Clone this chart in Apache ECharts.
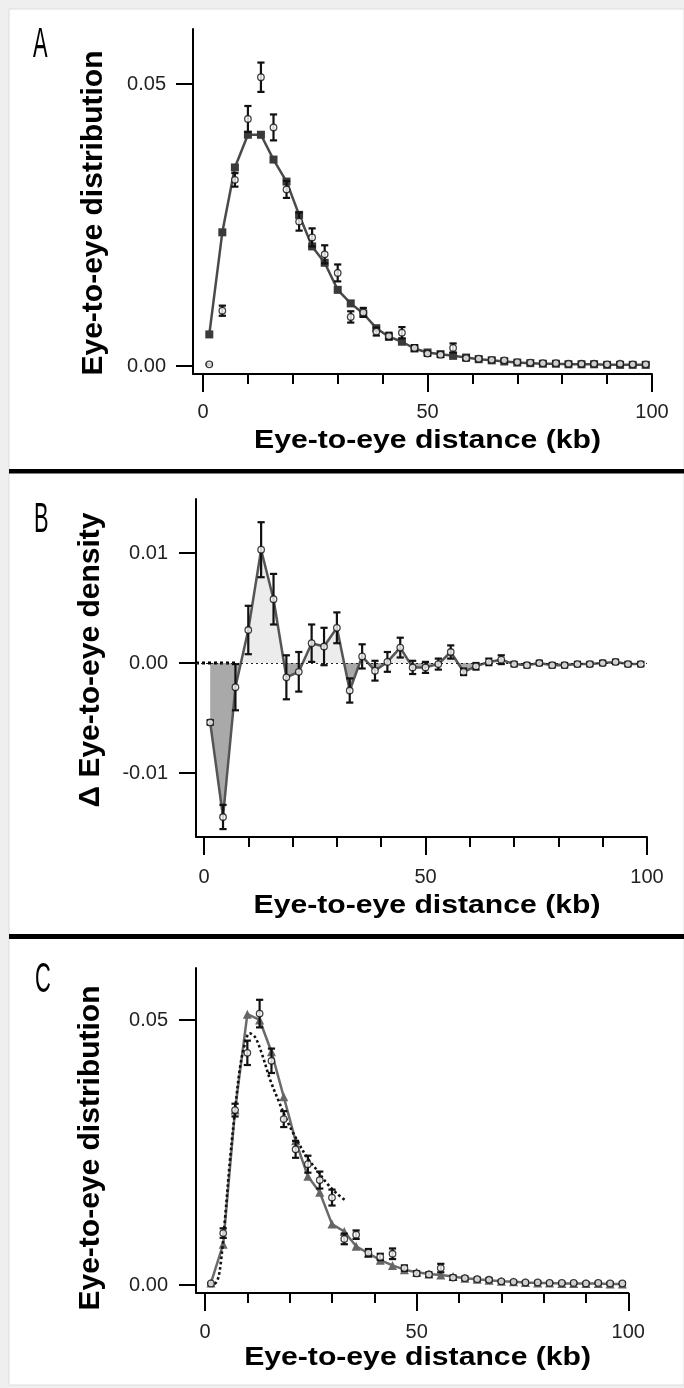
<!DOCTYPE html>
<html>
<head>
<meta charset="utf-8">
<script src="https://cdn.jsdelivr.net/npm/echarts@6/dist/echarts.min.js"></script>
<style>
  html, body { margin: 0; padding: 0; background: #efefef; }
  #chart { width: 684px; height: 1388px; }
</style>
</head>
<body>
<div id="chart"></div>
<script>
// ---- data ----
const distKb = [1.4, 4.3, 7.1, 10.0, 12.9, 15.7, 18.6, 21.4, 24.3, 27.1, 30.0, 32.9, 35.7, 38.6, 41.4, 44.3, 47.1, 50.0, 52.9, 55.7, 58.6, 61.4, 64.3, 67.1, 70.0, 72.9, 75.7, 78.6, 81.4, 84.3, 87.1, 90.0, 92.9, 95.7, 98.6];

// Panel A: model (filled squares) and observed distribution (open circles)
const modelA = [0.0056, 0.0237, 0.0352, 0.0410, 0.0410, 0.0366, 0.0327, 0.0268, 0.0212, 0.0183, 0.0135, 0.0111, 0.0093, 0.0067, 0.0052, 0.0043, 0.0031, 0.0024, 0.0021, 0.0018, 0.0015, 0.0012, 0.0010, 0.0008, 0.0006, 0.0005, 0.0004, 0.0004, 0.0003, 0.0003, 0.0003, 0.0002, 0.0002, 0.0002, 0.0002];
const observed = [0.0003, 0.0098, 0.0330, 0.0438, 0.0512, 0.0423, 0.0313, 0.0256, 0.0228, 0.0198, 0.0165, 0.0087, 0.0095, 0.0061, 0.0053, 0.0059, 0.0032, 0.0022, 0.0020, 0.0032, 0.0014, 0.0013, 0.0011, 0.0010, 0.0007, 0.0006, 0.0005, 0.0005, 0.0004, 0.0004, 0.0004, 0.0003, 0.0004, 0.0003, 0.0003];
const observedErr = [0.0001, 0.0009, 0.0012, 0.0023, 0.0026, 0.0023, 0.0015, 0.0016, 0.0016, 0.0016, 0.0015, 0.0010, 0.0008, 0.0007, 0.0006, 0.0010, 0.0005, 0.0004, 0.0004, 0.0008, 0.0004, 0.0003, 0.0003, 0.0003, 0.0002, 0.0002, 0.0002, 0.0002, 0.0002, 0.0002, 0.0002, 0.0002, 0.0002, 0.0002, 0.0002];

// Panel B: difference (observed - model)
const deltaB = [-0.0054, -0.0140, -0.0022, 0.0030, 0.0103, 0.0058, -0.0013, -0.0008, 0.0018, 0.0015, 0.0032, -0.0025, 0.0006, -0.0007, 0.0001, 0.0014, -0.0004, -0.0004, -0.0001, 0.0010, -0.0008, -0.0003, 0.0001, 0.0003, -0.0001, -0.0002, 0.0000, -0.0002, -0.0002, -0.0001, -0.0001, 0.0000, 0.0001, -0.0001, -0.0001];
const deltaErr = [0.0002, 0.0011, 0.0021, 0.0022, 0.0025, 0.0023, 0.0020, 0.0018, 0.0017, 0.0017, 0.0014, 0.0011, 0.0011, 0.0009, 0.0009, 0.0009, 0.0006, 0.0005, 0.0005, 0.0006, 0.0003, 0.0003, 0.0003, 0.0004, 0.0002, 0.0002, 0.0002, 0.0002, 0.0002, 0.0002, 0.0002, 0.0002, 0.0002, 0.0002, 0.0002];
const zeroThickKb = [-1.8, 7.7];

// Panel C: second model (triangles) and fitted curve (dotted)
const modelC = [0.0004, 0.0077, 0.0330, 0.0511, 0.0500, 0.0440, 0.0355, 0.0272, 0.0205, 0.0175, 0.0115, 0.0101, 0.0073, 0.0060, 0.0047, 0.0037, 0.0029, 0.0024, 0.0021, 0.0019, 0.0016, 0.0013, 0.0011, 0.0009, 0.0007, 0.0006, 0.0005, 0.0004, 0.0004, 0.0003, 0.0003, 0.0003, 0.0003, 0.0002, 0.0002];
const fitKb = [2.3, 3.0, 3.7, 4.7, 5.9, 7.1, 8.3, 9.5, 10.5, 11.8, 13.4, 15.4, 17.3, 19.3, 21.7, 24.0, 26.4, 28.8, 31.1, 33.1];
const fitC = [0.0002, 0.0010, 0.0040, 0.0123, 0.0236, 0.0330, 0.0412, 0.0457, 0.0475, 0.0468, 0.0437, 0.0387, 0.0349, 0.0311, 0.0274, 0.0242, 0.0217, 0.0192, 0.0173, 0.0160];

// tick labels
const xTicks = [0, 50, 100];
const yTicksA = [0, 0.05];
const yTicksB = [-0.01, 0, 0.01];
const yTicksC = [0, 0.05];

const xTitle = 'Eye-to-eye distance (kb)';
const yTitleA = 'Eye-to-eye distribution';
const yTitleB = '\u0394 Eye-to-eye density';
const yTitleC = 'Eye-to-eye distribution';

// ---- helpers ----
const FONT = 'Liberation Sans, Arial, Helvetica, sans-serif';
const pairs = (xs, ys) => xs.map((x, i) => [x, ys[i]]);
const triples = (xs, ys, es) => xs.map((x, i) => [x, ys[i], es[i]]);

function mainX(g, min, max) {
  return { type: 'value', gridIndex: g, min, max,
    axisLine: { show: true, onZero: false, lineStyle: { color: '#000', width: 2 } },
    axisTick: { show: false }, axisLabel: { show: false }, splitLine: { show: false } };
}
function mainY(g, min, max) {
  return { type: 'value', gridIndex: g, min, max,
    axisLine: { show: true, onZero: false, lineStyle: { color: '#000', width: 2 } },
    axisTick: { show: false }, axisLabel: { show: false }, splitLine: { show: false } };
}
function tickX(g, offset, margin) {
  return { type: 'value', gridIndex: g, min: xTicks[0], max: xTicks[xTicks.length - 1],
    interval: xTicks[1] - xTicks[0], offset,
    axisLine: { show: false, onZero: false },
    axisTick: { show: true, length: 18, lineStyle: { color: '#000', width: 2 } },
    minorTick: { show: true, splitNumber: 5, length: 10, lineStyle: { color: '#000', width: 2 } },
    axisLabel: { margin, fontSize: 20, color: '#222', fontFamily: FONT },
    splitLine: { show: false }, minorSplitLine: { show: false } };
}
function tickY(g, ticks, offset, margin) {
  return { type: 'value', gridIndex: g, min: ticks[0], max: ticks[ticks.length - 1],
    interval: +(ticks[1] - ticks[0]).toFixed(6), offset,
    axisLine: { show: false, onZero: false },
    axisTick: { show: true, length: 17, lineStyle: { color: '#000', width: 2 } },
    axisLabel: { margin, fontSize: 20, color: '#222', fontFamily: FONT,
      formatter: v => (Math.abs(v) < 1e-9 ? 0 : v).toFixed(2) },
    splitLine: { show: false } };
}
function errorBars(axisIdx, data, z) {
  return {
    type: 'custom', xAxisIndex: axisIdx, yAxisIndex: axisIdx, data, z: z || 3,
    encode: { x: 0, y: 1 },
    renderItem: function (params, api) {
      const x = api.value(0), y = api.value(1), e = api.value(2);
      const t = api.coord([x, y + e]);
      const b = api.coord([x, y - e]);
      const hw = 3.6;
      const st = { stroke: '#111', lineWidth: 2.2 };
      return { type: 'group', children: [
        { type: 'line', shape: { x1: t[0], y1: t[1], x2: b[0], y2: b[1] }, style: st },
        { type: 'line', shape: { x1: t[0] - hw, y1: t[1], x2: t[0] + hw, y2: t[1] }, style: st },
        { type: 'line', shape: { x1: b[0] - hw, y1: b[1], x2: b[0] + hw, y2: b[1] }, style: st }
      ] };
    }
  };
}
function circles(axisIdx, data) {
  return { type: 'scatter', xAxisIndex: axisIdx, yAxisIndex: axisIdx, data,
    symbol: 'circle', symbolSize: 6.5, z: 5,
    itemStyle: { color: '#fff', borderColor: '#111', borderWidth: 1.3 } };
}

// layout of panel B for the area colour split at zero
const gridB = { left: 196, top: 499, width: 451, height: 338 };
const bMin = -0.01582, bMax = 0.01491;
const zeroY = gridB.top + gridB.height * bMax / (bMax - bMin);
const H = 1388;
const areaFill = new echarts.graphic.LinearGradient(0, 0, 0, H, [
  { offset: 0, color: '#ececec' },
  { offset: zeroY / H, color: '#ececec' },
  { offset: zeroY / H, color: '#a9a9a9' },
  { offset: 1, color: '#a9a9a9' }
], true);

const chart = echarts.init(document.getElementById('chart'), null, { renderer: 'canvas' });

const titleStyle = { fontFamily: FONT, fontWeight: 'bold', fill: '#000', align: 'center', verticalAlign: 'middle' };
const letterStyle = { fontFamily: FONT, fontSize: 42, fill: '#000', align: 'left', verticalAlign: 'top' };

const option = {
  animation: false,
  backgroundColor: 'transparent',
  textStyle: { fontFamily: FONT },
  grid: [
    { left: 193, top: 29, width: 459, height: 345 },
    gridB,
    { left: 196, top: 968, width: 432.3, height: 325 },
    { left: 203, top: 84, width: 449, height: 282 },
    { left: 204, top: 553, width: 443, height: 220 },
    { left: 205, top: 1020, width: 423.3, height: 265 }
  ],
  xAxis: [
    mainX(0, -2.23, 100),
    mainX(1, -1.8, 100),
    mainX(2, -2.13, 100),
    tickX(3, 8, 28),
    tickX(4, 64, 30),
    tickX(5, 8, 29)
  ],
  yAxis: [
    mainY(0, -0.00142, 0.05975),
    mainY(1, bMin, bMax),
    mainY(2, -0.0015, 0.0598),
    tickY(3, yTicksA, 10, 27),
    tickY(4, yTicksB, 8, 28),
    tickY(5, yTicksC, 9, 28)
  ],
  graphic: [
    { type: 'rect', z: -100, shape: { x: 9, y: 9, width: 675, height: 1376 },
      style: { fill: '#fff', stroke: '#dcdcdc', lineWidth: 1 } },
    { type: 'rect', shape: { x: 9, y: 469, width: 675, height: 4.5 }, style: { fill: '#000' } },
    { type: 'rect', shape: { x: 9, y: 934, width: 675, height: 5 }, style: { fill: '#000' } },
    { type: 'text', x: 33, y: 24, scaleX: 0.52, style: Object.assign({ text: 'A' }, letterStyle) },
    { type: 'text', x: 34, y: 499, scaleX: 0.52, style: Object.assign({ text: 'B' }, letterStyle) },
    { type: 'text', x: 35, y: 959, scaleX: 0.52, style: Object.assign({ text: 'C' }, letterStyle) },
    { type: 'text', x: 94, y: 213, rotation: Math.PI / 2, style: Object.assign({ text: yTitleA, fontSize: 30 }, titleStyle) },
    { type: 'text', x: 91, y: 660, rotation: Math.PI / 2, style: Object.assign({ text: yTitleB, fontSize: 30 }, titleStyle) },
    { type: 'text', x: 90.5, y: 1148, rotation: Math.PI / 2, style: Object.assign({ text: yTitleC, fontSize: 30 }, titleStyle) },
    { type: 'text', x: 427.5, y: 441, scaleX: 1.16, style: Object.assign({ text: xTitle, fontSize: 26 }, titleStyle) },
    { type: 'text', x: 427, y: 906, scaleX: 1.16, style: Object.assign({ text: xTitle, fontSize: 26 }, titleStyle) },
    { type: 'text', x: 417.6, y: 1358, scaleX: 1.16, style: Object.assign({ text: xTitle, fontSize: 26 }, titleStyle) }
  ],
  series: [
    // ---- A ----
    { type: 'line', xAxisIndex: 0, yAxisIndex: 0, data: pairs(distKb, modelA), z: 2,
      symbol: 'rect', symbolSize: 8, itemStyle: { color: '#3a3a3a' },
      lineStyle: { color: '#4a4a4a', width: 2.5 } },
    errorBars(0, triples(distKb, observed, observedErr)),
    circles(0, pairs(distKb, observed)),
    // ---- B ----
    { id: 'deltaB', type: 'line', xAxisIndex: 1, yAxisIndex: 1, data: pairs(distKb, deltaB), z: 2,
      showSymbol: false, symbol: 'none',
      lineStyle: { color: '#555', width: 2.5 },
      areaStyle: { color: areaFill, opacity: 1 },
      markLine: { silent: true, symbol: 'none', label: { show: false },
        lineStyle: { type: [2, 3], color: '#222', width: 1.2 },
        data: [{ yAxis: 0 }] } },
    { type: 'line', xAxisIndex: 1, yAxisIndex: 1, data: pairs(zeroThickKb, [0, 0]), z: 3,
      symbol: 'none', lineStyle: { type: [3, 3], color: '#000', width: 3 } },
    errorBars(1, triples(distKb, deltaB, deltaErr)),
    circles(1, pairs(distKb, deltaB)),
    // ---- C ----
    { type: 'line', xAxisIndex: 2, yAxisIndex: 2, data: pairs(distKb, modelC), z: 2,
      symbol: 'triangle', symbolSize: 9, itemStyle: { color: '#666' },
      lineStyle: { color: '#6a6a6a', width: 2.5 } },
    { type: 'line', xAxisIndex: 2, yAxisIndex: 2, data: pairs(fitKb, fitC), z: 3,
      symbol: 'none', smooth: 0.35,
      lineStyle: { color: '#111', width: 2.6, type: [2.6, 2.6] } },
    errorBars(2, triples(distKb, observed, observedErr), 4),
    circles(2, pairs(distKb, observed))
  ]
};
chart.setOption(option);
</script>
</body>
</html>
